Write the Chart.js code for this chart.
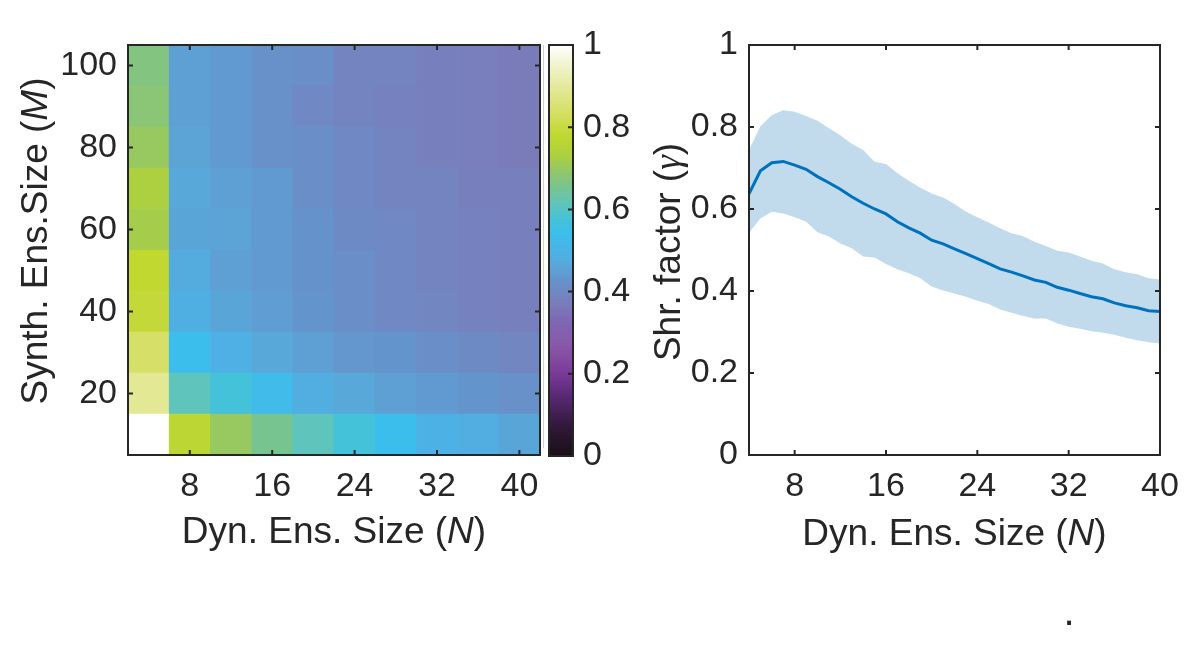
<!DOCTYPE html>
<html>
<head>
<meta charset="utf-8">
<script src="https://cdn.jsdelivr.net/npm/chart.js@4.4.1/dist/chart.umd.min.js"></script>
<style>
  html, body { margin: 0; padding: 0; background: #fff; }
  #wrap { position: relative; width: 1200px; height: 657px; }
  #wrap canvas { position: absolute; left: 0; top: 0; width: 1200px; height: 657px; }
</style>
</head>
<body>
<div id="wrap">
  <canvas id="heat" width="1200" height="657"></canvas>
  <canvas id="cbar" width="1200" height="657"></canvas>
  <canvas id="shrink" width="1200" height="657"></canvas>
</div>
<script>
// ---- data ----
var dynSizes = [4, 8, 12, 16, 20, 24, 28, 32, 36, 40];          // N (columns)
var synthSizes = [10, 20, 30, 40, 50, 60, 70, 80, 90, 100];     // M (rows)

// relative error per cell, rows follow synthSizes (bottom -> top)
var errRow10  = [1.00, 0.77, 0.70, 0.655, 0.61, 0.575, 0.54, 0.495, 0.48, 0.46];
var errRow20  = [0.89, 0.61, 0.575, 0.53, 0.48, 0.465, 0.45, 0.44, 0.43, 0.42];
var errRow30  = [0.84, 0.54, 0.49, 0.465, 0.45, 0.435, 0.43, 0.415, 0.405, 0.395];
var errRow40  = [0.79, 0.485, 0.46, 0.445, 0.43, 0.415, 0.40, 0.395, 0.385, 0.38];
var errRow50  = [0.78, 0.475, 0.45, 0.44, 0.425, 0.415, 0.40, 0.39, 0.385, 0.38];
var errRow60  = [0.72, 0.46, 0.455, 0.44, 0.425, 0.405, 0.40, 0.39, 0.385, 0.38];
var errRow70  = [0.73, 0.465, 0.45, 0.44, 0.415, 0.40, 0.39, 0.39, 0.38, 0.38];
var errRow80  = [0.70, 0.455, 0.44, 0.42, 0.415, 0.40, 0.39, 0.38, 0.375, 0.37];
var errRow90  = [0.68, 0.45, 0.44, 0.42, 0.40, 0.39, 0.385, 0.38, 0.375, 0.37];
var errRow100 = [0.67, 0.45, 0.44, 0.42, 0.415, 0.39, 0.39, 0.38, 0.375, 0.37];
var errGrid = [errRow10, errRow20, errRow30, errRow40, errRow50,
               errRow60, errRow70, errRow80, errRow90, errRow100];

var heatXTicks = [8, 16, 24, 32, 40];
var heatYTicks = [20, 40, 60, 80, 100];
var cbarTicks = [0, 0.2, 0.4, 0.6, 0.8, 1];

// shrinkage factor vs N
var nAxis = [4, 5, 6, 7, 8, 9, 10, 11, 12, 13, 14, 15, 16, 17, 18, 19, 20, 21, 22,
             23, 24, 25, 26, 27, 28, 29, 30, 31, 32, 33, 34, 35, 36, 37, 38, 39, 40];
var shrinkMean = [0.637, 0.693, 0.713, 0.716, 0.707, 0.697, 0.679, 0.664, 0.648, 0.630,
                  0.614, 0.600, 0.588, 0.569, 0.554, 0.541, 0.524, 0.515, 0.503, 0.491,
                  0.479, 0.467, 0.454, 0.446, 0.437, 0.427, 0.421, 0.409, 0.402, 0.394,
                  0.386, 0.381, 0.371, 0.364, 0.359, 0.352, 0.350];
var shrinkUpper = [0.744, 0.802, 0.829, 0.841, 0.837, 0.827, 0.815, 0.797, 0.780, 0.759,
                   0.744, 0.715, 0.710, 0.687, 0.669, 0.652, 0.638, 0.628, 0.612, 0.593,
                   0.580, 0.567, 0.553, 0.541, 0.534, 0.520, 0.510, 0.498, 0.494, 0.484,
                   0.474, 0.467, 0.453, 0.446, 0.441, 0.431, 0.428];
var shrinkLower = [0.542, 0.577, 0.593, 0.589, 0.580, 0.569, 0.543, 0.533, 0.516, 0.504,
                   0.484, 0.482, 0.466, 0.453, 0.443, 0.431, 0.411, 0.401, 0.394, 0.386,
                   0.376, 0.368, 0.355, 0.347, 0.339, 0.333, 0.333, 0.321, 0.313, 0.308,
                   0.302, 0.298, 0.293, 0.286, 0.280, 0.275, 0.272];
var shrinkXTicks = [8, 16, 24, 32, 40];
var shrinkYTicks = [0, 0.2, 0.4, 0.6, 0.8, 1];

// ---- colormap ----
var cmapStops = [
  [0.00, '#1a1018'], [0.07, '#301838'], [0.15, '#5a2a78'], [0.20, '#7a3a98'],
  [0.27, '#8a58a8'], [0.33, '#7e68b4'], [0.37, '#7a7cba'], [0.39, '#7484c0'],
  [0.41, '#6c8cc6'], [0.43, '#6494cc'], [0.45, '#5ea0d4'], [0.47, '#56aadc'],
  [0.49, '#4eb0e4'], [0.54, '#3cbeec'], [0.575, '#44c2da'], [0.61, '#5ec4bc'],
  [0.655, '#78c490'], [0.70, '#98c860'], [0.73, '#acd040'], [0.78, '#c0d830'],
  [0.84, '#d6e068'], [0.89, '#e2e894'], [0.95, '#f0f4cc'], [1.00, '#ffffff']
];

function hexRgb(h) {
  return [parseInt(h.slice(1, 3), 16), parseInt(h.slice(3, 5), 16), parseInt(h.slice(5, 7), 16)];
}

function cmap(v) {
  for (var i = 0; i < cmapStops.length - 1; i++) {
    var s0 = cmapStops[i], s1 = cmapStops[i + 1];
    if (v <= s1[0]) {
      var t = (v - s0[0]) / (s1[0] - s0[0]);
      var a = hexRgb(s0[1]), b = hexRgb(s1[1]);
      return 'rgb(' + a.map(function (c, k) { return Math.round(c + (b[k] - c) * t); }).join(',') + ')';
    }
  }
  return cmapStops[cmapStops.length - 1][1];
}

// ---- shared look ----
var FONT = '"Liberation Sans", Arial, Helvetica, sans-serif';
var MATHFONT = '"Liberation Serif", "DejaVu Serif", serif';
var INK = '#262626';
Chart.defaults.font.family = FONT;
Chart.defaults.color = INK;

// matlab style box with inward ticks
var boxPlugin = {
  id: 'box',
  afterDraw: function (chart, args, opts) {
    var ctx = chart.ctx, a = chart.chartArea, len = 5;
    ctx.save();
    if (opts.ghost) {
      ctx.strokeStyle = '#cfcfcf';
      ctx.lineWidth = 1;
      ctx.beginPath();
      ctx.moveTo(a.left - 5.5, a.top);
      ctx.lineTo(a.left - 5.5, a.bottom - 8);
      ctx.stroke();
    }
    ctx.strokeStyle = INK;
    ctx.lineWidth = 2;
    ctx.strokeRect(a.left, a.top, a.right - a.left, a.bottom - a.top);
    ctx.beginPath();
    if (opts.xTicks) {
      var xs = chart.scales.x;
      xs.ticks.forEach(function (t) {
        var px = xs.getPixelForValue(t.value);
        ctx.moveTo(px, a.bottom); ctx.lineTo(px, a.bottom - len);
        ctx.moveTo(px, a.top); ctx.lineTo(px, a.top + len);
      });
    }
    var ys = chart.scales.y;
    ys.ticks.forEach(function (t) {
      var py = ys.getPixelForValue(t.value);
      if (opts.yLeft) { ctx.moveTo(a.left, py); ctx.lineTo(a.left + len, py); }
      if (opts.yRight) { ctx.moveTo(a.right, py); ctx.lineTo(a.right - len, py); }
    });
    ctx.stroke();
    ctx.restore();
  }
};

// axis titles with italic parts
var titlePlugin = {
  id: 'titles',
  afterDraw: function (chart, args, opts) {
    var ctx = chart.ctx, a = chart.chartArea;
    (opts.items || []).forEach(function (item) {
      var x, y;
      if (item.side === 'bottom') { x = (a.left + a.right) / 2 + (item.dx || 0); y = a.bottom + item.off; }
      else if (item.side === 'left') { x = a.left - item.off; y = (a.top + a.bottom) / 2 + (item.dy || 0); }
      else { x = item.x; y = item.y; }
      ctx.save();
      ctx.translate(x, y);
      if (item.side === 'left') ctx.rotate(-Math.PI / 2);
      ctx.fillStyle = INK;
      ctx.textBaseline = 'alphabetic';
      ctx.textAlign = 'left';
      var fonts = item.parts.map(function (p) {
        return (p.italic ? 'italic ' : '') + item.size + 'px ' + (p.math ? MATHFONT : FONT);
      });
      var widths = item.parts.map(function (p, i) { ctx.font = fonts[i]; return ctx.measureText(p.text).width; });
      var total = widths.reduce(function (s, w) { return s + w; }, 0);
      var cx = -total / 2;
      item.parts.forEach(function (p, i) {
        ctx.font = fonts[i];
        ctx.fillText(p.text, cx, 0);
        cx += widths[i];
      });
      ctx.restore();
    });
  }
};

function fixTicks(list) {
  return function (axis) { axis.ticks = list.map(function (v) { return { value: v }; }); };
}

var tickFont = { size: 34 };

// ---- heat map ----
var rowHalf = 5;
new Chart(document.getElementById('heat'), {
  type: 'bar',
  data: {
    datasets: synthSizes.map(function (m, r) {
      return {
        data: dynSizes.map(function (n) { return { x: n, y: [m - rowHalf, m + rowHalf] }; }),
        backgroundColor: function (c) { return cmap(errGrid[r][c.dataIndex]); },
        borderWidth: 0,
        grouped: false,
        barPercentage: 1,
        categoryPercentage: 1
      };
    })
  },
  options: {
    responsive: false,
    animation: false,
    events: [],
    layout: { padding: { left: 0, top: 45, right: 660, bottom: 102 } },
    plugins: {
      legend: { display: false },
      tooltip: { enabled: false },
      box: { xTicks: true, yLeft: true, yRight: true },
      titles: {
        items: [
          { side: 'bottom', off: 88, size: 37,
            parts: [{ text: 'Dyn. Ens. Size (' }, { text: 'N', italic: true }, { text: ')' }] },
          { side: 'left', off: 81, dy: -9, size: 37,
            parts: [{ text: 'Synth. Ens.Size (' }, { text: 'M', italic: true }, { text: ')' }] }
        ]
      }
    },
    scales: {
      x: {
        type: 'linear', min: 2, max: 42, offset: false,
        grid: { display: false, drawTicks: false, offset: false },
        border: { display: false },
        afterBuildTicks: fixTicks(heatXTicks),
        afterFit: function (ax) { ax.height = 100; },
        ticks: { font: tickFont, padding: 11, maxRotation: 0, autoSkip: false }
      },
      y: {
        type: 'linear', min: 5, max: 105,
        grid: { display: false, drawTicks: false },
        border: { display: false },
        afterBuildTicks: fixTicks(heatYTicks),
        afterFit: function (ax) { ax.width = 128; },
        ticks: { font: tickFont, padding: 11, autoSkip: false }
      }
    }
  },
  plugins: [boxPlugin, titlePlugin]
});

// ---- colour bar ----
new Chart(document.getElementById('cbar'), {
  type: 'bar',
  data: {
    labels: [''],
    datasets: [{
      data: [[0, 1]],
      backgroundColor: function (c) {
        var a = c.chart.chartArea;
        if (!a) return 'rgba(0,0,0,0)';
        var g = c.chart.ctx.createLinearGradient(0, a.bottom, 0, a.top);
        cmapStops.forEach(function (s) { g.addColorStop(s[0], s[1]); });
        return g;
      },
      borderWidth: 0,
      barPercentage: 1,
      categoryPercentage: 1
    }]
  },
  options: {
    responsive: false,
    animation: false,
    events: [],
    layout: { padding: { left: 549, top: 45, right: 547, bottom: 201 } },
    plugins: {
      legend: { display: false },
      tooltip: { enabled: false },
      box: { xTicks: false, yLeft: false, yRight: true, ghost: true }
    },
    scales: {
      x: { display: false },
      y: {
        position: 'right', min: 0, max: 1,
        grid: { display: false, drawTicks: false },
        border: { display: false },
        afterBuildTicks: fixTicks(cbarTicks),
        afterFit: function (ax) { ax.width = 80; },
        ticks: { font: tickFont, padding: 10, autoSkip: false,
                 callback: function (v) { return String(v); } }
      }
    }
  },
  plugins: [boxPlugin]
});

// ---- shrinkage factor ----
function pts(ys) { return nAxis.map(function (n, i) { return { x: n, y: ys[i] }; }); }

new Chart(document.getElementById('shrink'), {
  type: 'line',
  data: {
    datasets: [
      { data: pts(shrinkUpper), fill: '+1', backgroundColor: '#c1dbed',
        borderColor: 'rgba(0,0,0,0)', borderWidth: 0, pointRadius: 0 },
      { data: pts(shrinkLower), fill: false,
        borderColor: 'rgba(0,0,0,0)', borderWidth: 0, pointRadius: 0 },
      { data: pts(shrinkMean), fill: false, borderColor: '#0072bd',
        borderWidth: 3, pointRadius: 0, tension: 0 }
    ]
  },
  options: {
    responsive: false,
    animation: false,
    events: [],
    layout: { padding: { left: 629, top: 45, right: 40, bottom: 102 } },
    plugins: {
      legend: { display: false },
      tooltip: { enabled: false },
      filler: { drawTime: 'beforeDatasetsDraw' },
      box: { xTicks: true, yLeft: true, yRight: true },
      titles: {
        items: [
          { side: 'bottom', off: 90, size: 37,
            parts: [{ text: 'Dyn. Ens. Size (' }, { text: 'N', italic: true }, { text: ')' }] },
          { side: 'left', off: 69, dy: 2, size: 37,
            parts: [{ text: 'Shr. factor (' }, { text: '\u03B3', italic: true, math: true }, { text: ')' }] },
          { side: 'free', x: 1069, y: 625, size: 40, parts: [{ text: '.' }] }
        ]
      }
    },
    scales: {
      x: {
        type: 'linear', min: 4, max: 40,
        grid: { display: false, drawTicks: false },
        border: { display: false },
        afterBuildTicks: fixTicks(shrinkXTicks),
        afterFit: function (ax) { ax.height = 100; },
        ticks: { font: tickFont, padding: 11, maxRotation: 0, autoSkip: false }
      },
      y: {
        min: 0, max: 1,
        grid: { display: false, drawTicks: false },
        border: { display: false },
        afterBuildTicks: fixTicks(shrinkYTicks),
        afterFit: function (ax) { ax.width = 120; },
        ticks: { font: tickFont, padding: 11, autoSkip: false,
                 callback: function (v) { return String(v); } }
      }
    }
  },
  plugins: [boxPlugin, titlePlugin]
});
</script>
</body>
</html>
